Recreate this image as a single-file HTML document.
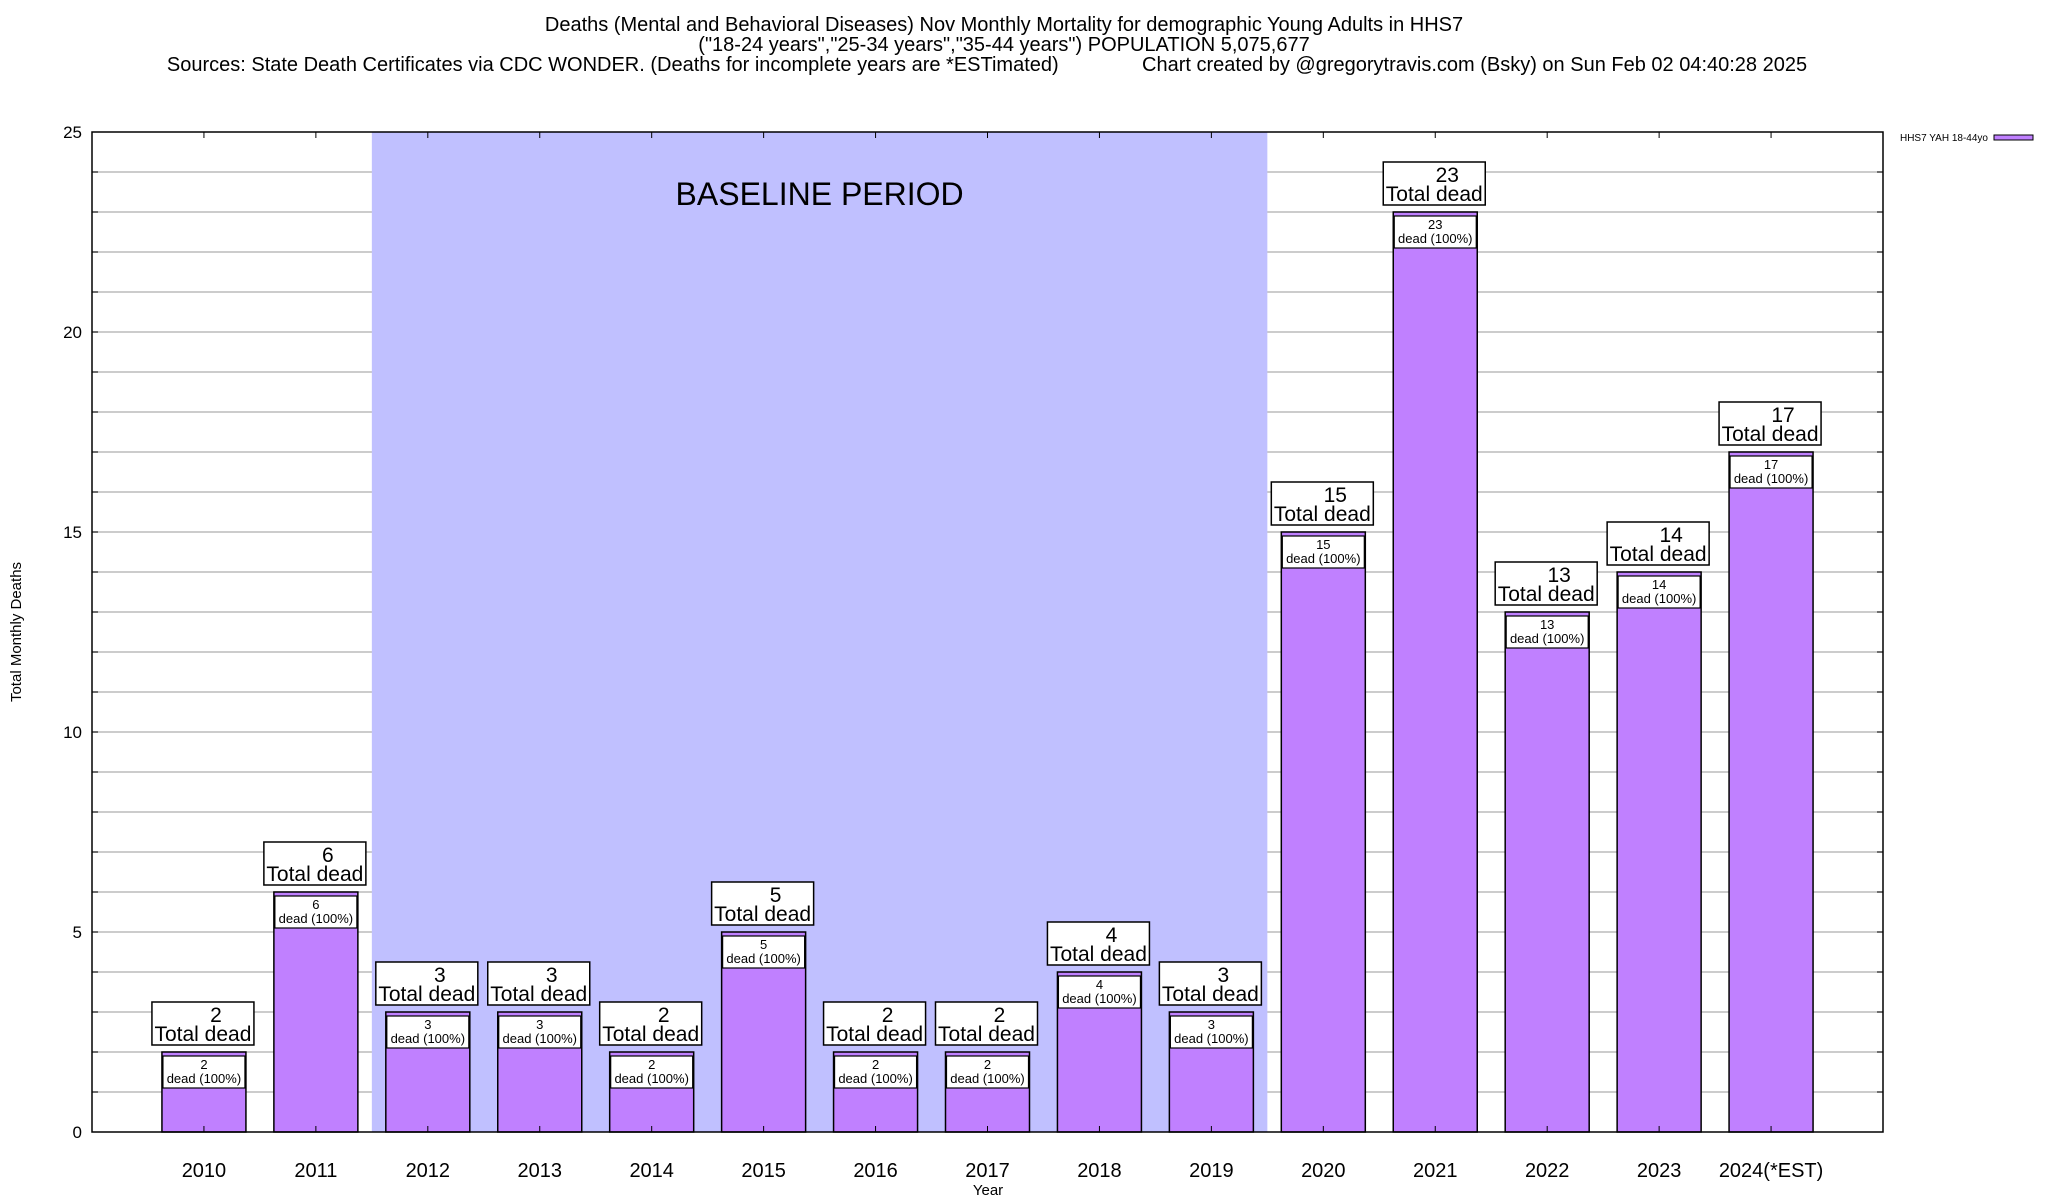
<!DOCTYPE html>
<html><head><meta charset="utf-8"><style>
body{margin:0;background:#fff;}
svg{display:block;font-family:"Liberation Sans",sans-serif;}
</style></head><body>
<svg id="chart" width="2048" height="1200" viewBox="0 0 2048 1200" xmlns="http://www.w3.org/2000/svg">
<g font-size="20" text-anchor="middle" fill="#000">
<text x="1004" y="31">Deaths (Mental and Behavioral Diseases) Nov Monthly Mortality for demographic Young Adults in HHS7</text>
<text x="1004" y="51">("18-24 years","25-34 years","35-44 years") POPULATION 5,075,677</text>
<text x="987" y="71" xml:space="preserve">Sources: State Death Certificates via CDC WONDER. (Deaths for incomplete years are *ESTimated)               Chart created by @gregorytravis.com (Bsky) on Sun Feb 02 04:40:28 2025</text>
</g>
<g id="grid"></g>
<rect id="baseline" fill="#c0c0ff"/>
<text id="baselineText" font-size="32" text-anchor="middle">BASELINE PERIOD</text>
<g id="bars"></g>
<rect x="92" y="132" width="1791" height="1000" fill="none" stroke="#000" stroke-width="1.5"/>
<g id="axes"></g>
<text x="988" y="1195" font-size="15" text-anchor="middle">Year</text>
<text x="0" y="0" font-size="15" text-anchor="middle" transform="translate(21,632) rotate(-90)">Total Monthly Deaths</text>
<g>
<text x="1988" y="141" font-size="10" text-anchor="end">HHS7 YAH 18-44yo</text>
<rect x="1994" y="135" width="39" height="5" fill="#c080ff" stroke="#000" stroke-width="1"/>
</g>
</svg>
<script>
const categories=["2010","2011","2012","2013","2014","2015","2016","2017","2018","2019","2020","2021","2022","2023","2024(*EST)"];
const values=[2,6,3,3,2,5,2,2,4,3,15,23,13,14,17];
const yTicks=[0,5,10,15,20,25];
const baselineStart=2, baselineEnd=9;
const NS="http://www.w3.org/2000/svg";
const L=92,R=1883,T=132,B=1132;
function xs(i){return L+(R-L)*(i+1)/(categories.length+1);}
function ys(v){return B-(B-T)*v/25;}
const step=(R-L)/(categories.length+1);
function mk(tag,attrs,parent){const e=document.createElementNS(NS,tag);for(const k in attrs)e.setAttribute(k,attrs[k]);parent.appendChild(e);return e;}
const grid=document.getElementById('grid'),axes=document.getElementById('axes'),bars=document.getElementById('bars');
for(let v=1;v<25;v++){const l=mk('line',{x1:L,x2:R,y1:ys(v),y2:ys(v),stroke:'#bbb','stroke-width':1.5},grid);


const t1=mk('line',{x1:L,x2:L+6,y1:ys(v),y2:ys(v),stroke:'#000'},axes);
const t2=mk('line',{x1:R-6,x2:R,y1:ys(v),y2:ys(v),stroke:'#000'},axes);}
yTicks.forEach(v=>{const t=mk('text',{x:82,y:ys(v)+6,'font-size':17,'text-anchor':'end'},axes);t.textContent=v;

});
const bl=document.getElementById('baseline');
bl.setAttribute('x',xs(baselineStart)-step/2);bl.setAttribute('y',T);bl.setAttribute('width',xs(baselineEnd)-xs(baselineStart)+step);bl.setAttribute('height',B-T);
const bt=document.getElementById('baselineText');bt.setAttribute('x',(xs(baselineStart)+xs(baselineEnd))/2);bt.setAttribute('y',205);
categories.forEach((c,i)=>{const cx=xs(i),v=values[i],top=ys(v);
const tk=mk('line',{x1:cx,x2:cx,y1:T,y2:T+6,stroke:'#000'},axes);
const bk=mk('line',{x1:cx,x2:cx,y1:B-6,y2:B,stroke:'#000'},axes);
const xl=mk('text',{x:cx,y:1177,'font-size':20,'text-anchor':'middle'},axes);xl.textContent=c;


const g=mk('g',{},bars);


mk('rect',{x:cx-42,y:top,width:84,height:B-top,fill:'#c080ff',stroke:'#000','stroke-width':1.5},g);
mk('rect',{x:cx-41,y:top+4,width:82,height:32,fill:'#fff',stroke:'#000','stroke-width':1.2},g);
const s1=mk('text',{x:cx,y:top+17,'font-size':13,'text-anchor':'middle'},g);s1.textContent=v;
const s2=mk('text',{x:cx,y:top+31,'font-size':13,'text-anchor':'middle'},g);s2.textContent='dead (100%)';
mk('rect',{x:cx-52,y:top-50,width:102,height:43,fill:'#fff',stroke:'#000','stroke-width':1.5},g);
const b1=mk('text',{x:cx+12,y:top-30,'font-size':21,'text-anchor':'middle'},g);b1.textContent=v;
const b2=mk('text',{x:cx-1,y:top-11,'font-size':21,'text-anchor':'middle'},g);b2.textContent='Total dead';
});
</script>
</body></html>
